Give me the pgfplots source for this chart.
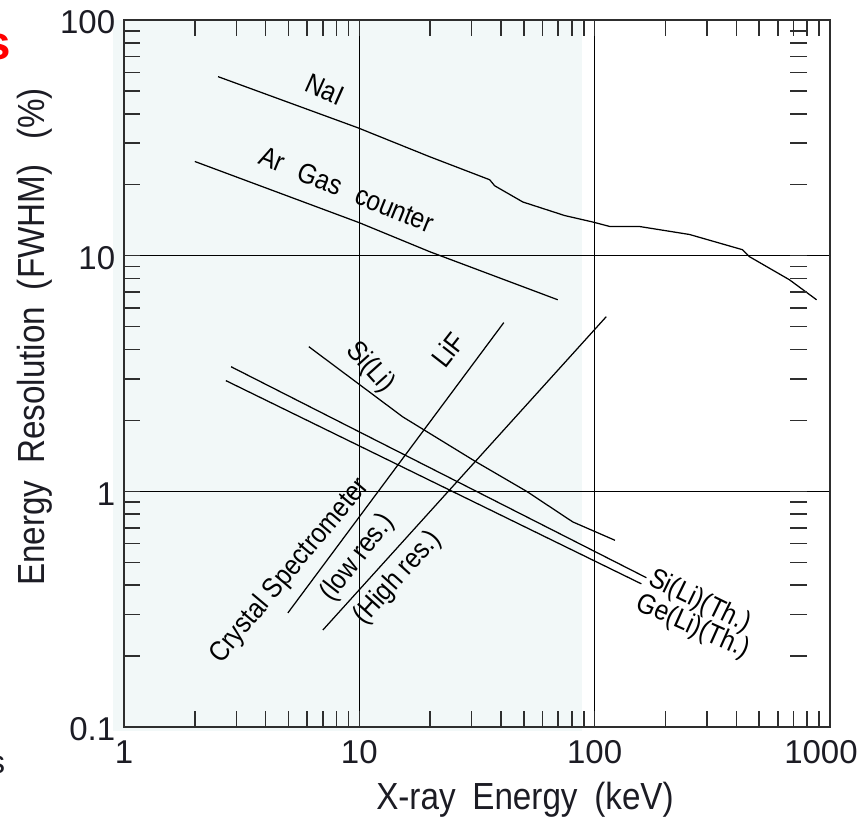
\documentclass[border=0pt]{standalone}
\usepackage{fontspec}
\setmainfont{Liberation Sans}
\newfontfamily\narrowfont{Liberation Sans}[FakeStretch=0.88]
\usepackage{pgfplots}
\pgfplotsset{compat=1.18}
\definecolor{shade}{HTML}{F2F8F8}
\definecolor{frame}{HTML}{2E2E2E}
\definecolor{ink}{HTML}{1C1C24}

\begin{document}
\begin{tikzpicture}
\begin{axis}[
  scale only axis, width=282.4pt, height=282.8pt,
  xmode=log, ymode=log,
  xmin=1, xmax=1000, ymin=0.1, ymax=100,
  log ticks with fixed point,
  /pgf/number format/1000 sep={},
  /pgf/number format/assume math mode=true,
  xticklabels={1,10,100,\hspace*{-7.2pt}1000},
  tick label style={font=\fontsize{13.2}{15}\selectfont, text=ink},
  xticklabel style={yshift=-2pt},
  yticklabel style={yshift=-1pt},
  ytick pos=left,
  major tick length=0pt, minor tick length=6.4pt,
  tick style={frame, line width=0.6pt},
  axis line style={frame, line width=0.8pt},
  grid=major, major grid style={black, line width=0.6pt},
  axis on top, clip=false,
  xlabel={X-ray\hspace{3pt} Energy\hspace{3pt} (keV)},
  ylabel={Energy\hspace{3pt} Resolution\hspace{3pt} (FWHM)\hspace{10pt}(\%)},
  label style={font=\narrowfont\fontsize{15.1}{17}\selectfont, text=ink},
  xlabel style={at={(rel axis cs:0.568,-0.103)}, anchor=center},
  ylabel style={at={(rel axis cs:-0.126,0.552)}, anchor=center},
  every node/.append style={text=ink},
]
% shaded band (keV range of interest)
\addplot[fill=shade, draw=none] coordinates {
  (0.898,0.0962) (88,0.0962) (88,100) (0.898,100)} -- cycle;

% NaI
\addplot[black, line width=0.5pt] coordinates {
  (2.51,57.5) (9.85,34.9) (19.9,26.3) (35.8,21.0) (37.6,19.8) (49.5,16.9)
  (74.6,14.8) (98,13.9) (116,13.3) (155,13.3) (253,12.3) (425,10.6)
  (455,9.9) (673,7.9) (877,6.5)};
% Ar gas counter
\addplot[black, line width=0.5pt] coordinates {
  (2.0,25.1) (10,13.8) (19.9,10.4) (69.7,6.5)};
% Si(Li)
\addplot[black, line width=0.5pt] coordinates {
  (6.1,4.11) (15.3,2.07) (31.5,1.33) (51.4,1.0) (80.7,0.742) (122,0.62)};
% Si(Li)(Th.) and Ge(Li)(Th.)
\addplot[black, line width=0.5pt] coordinates {(2.85,3.38) (166,0.43)};
\addplot[black, line width=0.5pt] coordinates {(2.71,2.95) (158,0.405)};
% crystal spectrometer, low res. (LiF) and high res.
\addplot[black, line width=0.5pt] coordinates {(4.97,0.305) (41.1,5.2)};
\addplot[black, line width=0.5pt] coordinates {(7.0,0.258) (112,5.51)};

\begin{scope}[font=\narrowfont\fontsize{11.2}{12}\selectfont]
\node[rotate=-24] at (axis cs:7.14,50.7) {NaI};
\node[rotate=-22] at (axis cs:8.85,19.1) {Ar\hspace{4pt} Gas\hspace{4pt} counter};
\node[rotate=-48] at (axis cs:11.1,3.35) {Si(Li)};
\node[rotate=52] at (axis cs:23.8,3.99) {LiF};
\node[rotate=50] at (axis cs:5.07,0.46) {Crystal Spectrometer};
\node[rotate=52] at (axis cs:9.85,0.522) {(low res.)};
\node[rotate=48] at (axis cs:14.6,0.429) {(High res.)};
\node[rotate=-26] at (axis cs:279,0.34) {Si(Li)(Th.)};
\node[rotate=-24] at (axis cs:261,0.266) {Ge(Li)(Th.)};
\end{scope}

\coordinate (SW) at (rel axis cs:0,0);
\coordinate (NE) at (rel axis cs:1,1);
\coordinate (NW) at (rel axis cs:0,1);
\end{axis}

% floating minor ticks near the right edge
\begin{axis}[
  at={([yshift=-12.4pt]SW)}, anchor=south west,
  scale only axis, width=273.2pt, height=282.8pt,
  xmode=log, ymode=log,
  xmin=1, xmax=1000, ymin=0.1, ymax=100,
  axis line style={draw=none},
  xtick=\empty, ytick pos=right, yticklabels={},
  major tick length=0pt, minor tick length=6.8pt,
  tick style={frame, line width=0.6pt},
]
\end{axis}

\node[text=red, font=\fontsize{19}{20}\selectfont\bfseries]
  at ([shift={(-50.4pt,-10.8pt)}]NW) {s};
\node[text=ink, font=\fontsize{13}{14}\selectfont]
  at ([shift={(-50.8pt,-15.2pt)}]SW) {s};

\pgfresetboundingbox
\useasboundingbox ([shift={(-49.6pt,-37.6pt)}]SW) rectangle ([shift={(12.4pt,8pt)}]NE);
\end{tikzpicture}
\end{document}
